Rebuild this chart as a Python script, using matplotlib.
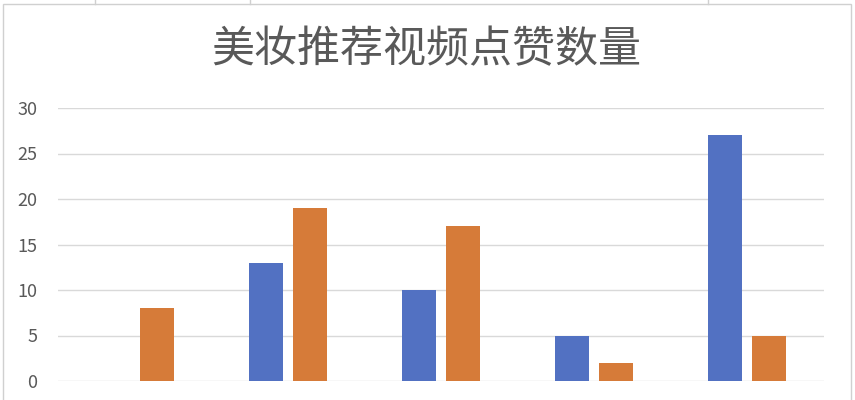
import matplotlib.pyplot as plt
import numpy as np
from matplotlib.patches import Rectangle

plt.rcParams['font.family'] = ['Noto Sans CJK SC', 'DejaVu Sans']

categories = ['1', '2', '3', '4', '5']
series_blue = [0, 13, 10, 5, 27]
series_orange = [8, 19, 17, 2, 5]
yticks = [0, 5, 10, 15, 20, 25, 30]
title = '美妆推荐视频点赞数量'

blue = '#5271C2'
orange = '#D67B39'
text_c = '#595959'

fig = plt.figure(figsize=(8.55, 4), dpi=100)
ax = fig.add_axes([58/855, 19/400, 766/855, 273/400])

x = np.arange(len(categories))
w = 0.222
gap = 0.065
ax.bar(x - (w + gap)/2, series_blue, width=w, color=blue, zorder=3)
ax.bar(x + (w + gap)/2, series_orange, width=w, color=orange, zorder=3)

ax.set_xlim(-0.5, len(categories) - 0.5)
ax.set_ylim(0, 30)
ax.set_yticks(yticks)
ax.yaxis.grid(True, color='#D9D9D9', lw=1, zorder=0)
ax.set_xticks([])
for s in ax.spines.values():
    s.set_visible(False)
ax.tick_params(axis='y', length=0, labelsize=13, labelcolor=text_c, pad=15)
ax.set_axisbelow(True)

fig.text(426/855, 1 - 50/400, title, ha='center', va='center',
         fontsize=31, color=text_c)

# chart border and sheet lines around it
fig.add_artist(Rectangle((3/855, -0.1), 848/855, 1 - 4/400 + 0.1,
                         transform=fig.transFigure, fill=False,
                         edgecolor='#D0D0D0', lw=1))
for xp in [95, 250, 708]:
    fig.add_artist(plt.Line2D([xp/855, xp/855], [1 - 4/400, 1],
                              transform=fig.transFigure, color='#D0D0D0', lw=1))

fig.savefig('out.png', dpi=100)
